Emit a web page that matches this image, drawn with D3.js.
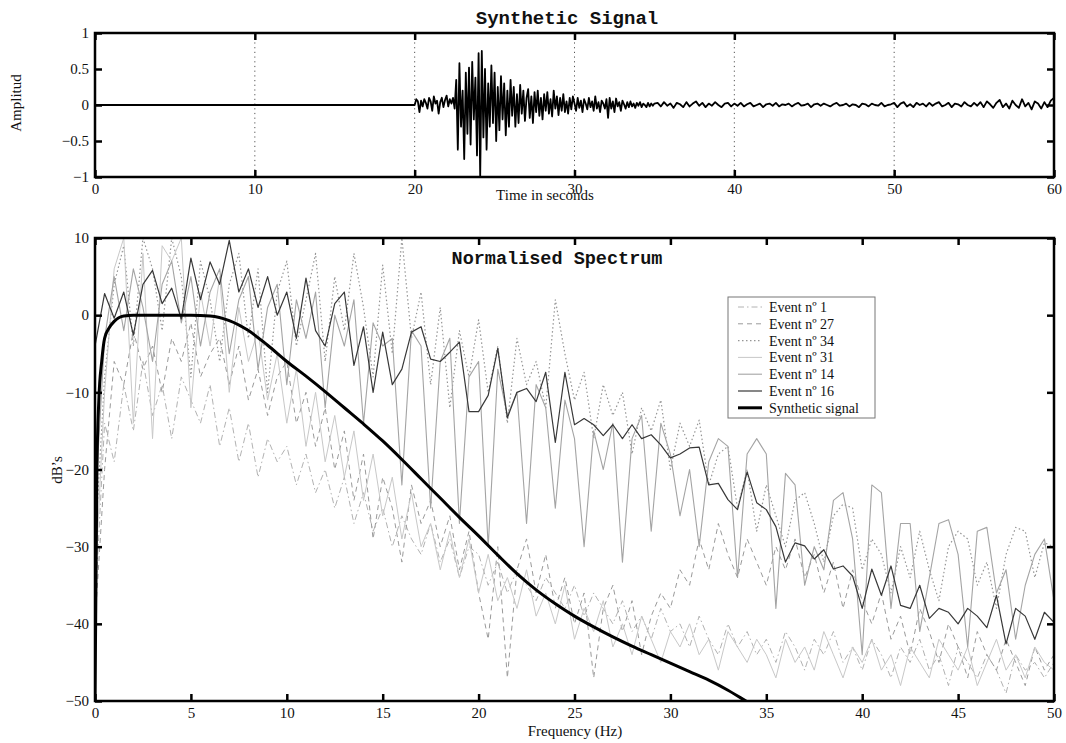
<!DOCTYPE html>
<html>
<head>
<meta charset="utf-8">
<script src="https://cdn.jsdelivr.net/npm/d3@7"></script>
<style>
  body { margin: 0; background: #fff; }
  text { font-family: "Liberation Serif", "Times New Roman", serif; fill: #111; }
  .ttl { font-family: "Liberation Mono", "Courier New", monospace; font-weight: bold; }
</style>
</head>
<body>
<svg id="fig" width="1066" height="743"></svg>
<script>
// ---- tick values
var timeTicks = [0, 10, 20, 30, 40, 50, 60];
var ampTicks = [-1, -0.5, 0, 0.5, 1];
var freqTicks = [0, 5, 10, 15, 20, 25, 30, 35, 40, 45, 50];
var dbTicks = [-50, -40, -30, -20, -10, 0, 10];

// ---- synthetic signal (seconds / amplitude)
var quietEnd = 20;          // flat until 20 s
var burstStart = 20, burstStep = 0.1;   // 20.0 .. 35.0 s
var burst = [
  0, 0.08, 0.05, -0.1, 0.06, -0.02, 0.08, 0.03, -0.05, 0.1,
  0.05, -0.08, 0.12, 0.02, 0.06, -0.12, 0.04, 0.1, -0.03, 0.07,
  0.13, -0.02, 0.08, 0.02, 0.1, -0.05,
  0.35, -0.62, 0.58, -0.3, 0.2, -0.75, 0.45, -0.4, 0.52, -0.55,
  0.6, -0.2, 0.38, -0.7, 0.72, -1.0, 0.75, -0.45, 0.5, -0.62,
  0.3, -0.3, 0.55, -0.25,
  0.45, -0.5, 0.25, -0.35, 0.4, -0.2, 0.3, -0.42, 0.2, -0.3,
  0.35, -0.15, 0.25, -0.3, 0.15, -0.25, 0.28, -0.12, 0.2, -0.22, 0.1,
  0.22, -0.18, 0.12, -0.25, 0.18, -0.1, 0.2, -0.15, 0.1, -0.2,
  0.15, -0.08, 0.18, -0.12, 0.08, -0.16, 0.2, -0.05, 0.12, -0.14,
  0.1, -0.08, 0.15, -0.1, 0.05, -0.12, 0.1, -0.06, 0.12, 0.02,
  -0.08, 0.1, -0.04, 0.06, -0.1, 0.08, 0.02, -0.06, 0.1, -0.03,
  0.05, -0.08, 0.12, -0.05, 0.04, -0.1, 0.06, 0.02, -0.05, 0.08,
  -0.18, 0.1, -0.05, 0.05, -0.1, 0.09, -0.02, 0.04, -0.08, 0.06,
  0.01, -0.05, 0.04, -0.03, 0.05, -0.02, 0.02, -0.04, 0.03, -0.01,
  0.04, -0.03, 0.02, 0, -0.03, 0.03, -0.02, 0.02, -0.01, 0.02
];
var codaStart = 35.2, codaStep = 0.2;   // 35.2 .. 60.0 s
var coda = [
  0.03, -0.02, 0.04, -0.01, 0.02, -0.04, 0.03, 0.01, -0.03, 0.04,
  -0.02, 0.02, 0.05, -0.01, 0.03, -0.03, 0.02, -0.01, 0.04, 0, -0.03, 0.02, 0.03, -0.02, 0.02,
  -0.01, 0.03, -0.02, 0.01, 0.03, -0.02, 0, 0.02, -0.03, 0.01,
  0.02, -0.01, 0.03, -0.02, 0.01, 0, 0.02, -0.02, 0.01, 0.03, -0.01, 0, 0.02, -0.03, 0.01,
  0.02, -0.01, 0.02, 0, -0.02, 0.01, 0.03, -0.01, 0, 0.02,
  -0.02, 0.01, 0, -0.03, 0.02, 0.01, -0.02, 0.02, 0, -0.01, 0.03, -0.02, 0, 0.01, 0.03,
  -0.03, 0.02, 0.04, -0.02, 0.01, -0.03, 0.03, 0, 0.02, -0.02,
  0.03, -0.01, 0.02, 0.04, -0.02, 0, 0.03, -0.03, 0.02, 0.01, -0.02, 0.04, 0, -0.02, 0.03,
  -0.01, 0.04, -0.03, 0.05, 0.01, -0.04, 0.03, 0.07, -0.03, 0.02,
  -0.05, 0.06, 0, -0.04, 0.08, -0.02, 0.03, -0.06, 0.05, 0.02, -0.05, 0.04, -0.03, 0.06, 0.1
];

// ---- spectra, dB every 0.5 Hz from 0 to 50 Hz
var freqStep = 0.5;
var event1 = [
  -38, -14, -19, -9, -15, -6, -13, -9, -16, -8,
  -11, -14, -9, -17, -12, -19, -14, -21, -16, -19,
  -17, -22, -18, -23, -20, -25, -21, -27, -23, -28,
  -25, -30, -26, -29, -31, -27, -32, -29, -34, -30,
  -31, -35, -32, -36, -33, -35, -37, -34, -36, -38,
  -35, -39, -36, -38, -40, -37, -41, -39, -42, -38,
  -41, -40, -43, -39, -42, -44, -40, -43, -41, -44,
  -42, -45, -41, -43, -46, -42, -44, -41, -45, -43,
  -46, -42, -44, -47, -43, -45, -42, -46, -44, -48,
  -43, -45, -47, -44, -46, -49, -44, -46, -45, -47,
  -45
];
var event27 = [
  -40, -20, -6, -9, -2, -7, -4, -10, -3, -6,
  -1, -8, -5, -3, -9, -4, -11, -7, -13, -8,
  -6, -14, -10, -17, -12, -20, -15, -24, -18, -29,
  -21, -25, -32, -22, -27, -24, -30, -26, -33, -28,
  -36, -42, -30, -47, -33, -29, -36, -31, -38, -34,
  -40, -36, -47, -38, -35, -41, -37, -44, -39, -36,
  -38, -33, -35, -29, -33, -27, -31, -34, -29, -32,
  -35, -30, -33, -29, -34, -31, -36, -32, -38, -33,
  -37, -40, -36, -42, -39, -44, -38, -41, -45, -40,
  -43, -47, -41, -44, -46, -42, -45, -48, -43, -46,
  -44
];
var event34 = [
  -30, -8, 4, 9, -4, 10, 6, -2, 10, 5,
  -8, 7, 2, -6, 4, 8, -3, 6, -10, 3,
  7, -4, 2, 8, -6, 5, -2, 8, 1, -8,
  6.5, -5, 10, -3, 3, -9, 1, -12, -2, -8,
  -0.6, -10, -4, -14, -3, -9, -6, -12, 2, -5,
  -11, -7.4, -16, -9, -13, -10, -18, -12, -15, -11,
  -20, -14, -17, -13.6, -22, -18, -17, -25, -20, -28,
  -22, -26, -30, -24, -23, -27, -32, -26, -24.5, -25,
  -33, -29, -31, -36, -30, -34, -28, -33, -37, -30,
  -28, -29, -35, -32, -38, -31, -27.5, -28, -34, -29.5,
  -30
];
var event31 = [
  -35, -10, 6, 10, -14, 8, -16, 9, 7, 10,
  -12, 3, -4, 5, -10, 1, -6, -2, -11, -5,
  -14, -7, -17, -10, -19, -13, -21, -15, -24, -18,
  -26, -21, -29, -23, -30, -27, -33, -28, -34, -29,
  -36, -31, -37, -34, -38, -33, -39, -36, -40, -35,
  -42, -38, -41, -37, -43, -40, -44, -39, -42, -45,
  -41, -43, -40, -44, -42, -46, -41, -43, -45, -42,
  -44, -47, -42, -45, -43, -46, -41, -44, -47, -43,
  -45, -42, -46, -44, -48, -43, -45, -47, -42, -44,
  -46, -43, -48, -45, -42, -46, -44, -47, -43, -45,
  -46
];
var event14 = [
  -25, -3, 5, -2, 6, 1, -6, 4, 7, -1,
  5, -4, 3, 6, -5, 2, 5, -7, 1, 4,
  -9, 2, -3, 3, -12, 0, -4, 2, -14, -1,
  -4, -3, -22, -2, -4, -25, -6, -3, -27, -8,
  -6, -30, -7, -13, -10, -27, -9, -12, -25, -11,
  -16, -30, -15, -20, -14, -32, -16, -13, -28, -14,
  -18, -26, -20, -30, -19, -16, -17, -34, -18, -16,
  -18, -38, -20.5, -22, -35, -30, -33, -24, -23, -29,
  -44, -22, -23, -38, -27, -27, -41, -34, -27, -26.5,
  -31, -43, -28, -27.5, -36, -33, -42, -35, -31, -29,
  -37
];
var event16 = [
  -4, 2.8, -0.4, 3, -2.6, 4, 5.8, 1.5, 3.5, -0.5,
  7.4, 2, 6.9, 4, 9.7, 3, 6, 1, 5, 0,
  3, -3, 4.8, -2, -4, 1.5, 3, -6.5, -1.5, -10,
  -2.2, -9, -7, -2.2, -1.5, -5.7, -6, -4.8, -3.5, -12.5,
  -12.5, -10.4, -4.3, -13.3, -10, -9.5, -11.2, -7.4, -16.5, -7.4,
  -14.2, -13.4, -14.2, -15.6, -14.2, -16, -14.2, -16, -15.5, -16.8,
  -18.5, -18, -17.2, -17.1, -22, -21.8, -23.9, -25.2, -20.3, -24.3,
  -25.2, -27.4, -32, -29.5, -29.9, -31.6, -30.4, -32.9, -32.5, -33.8,
  -38, -32.9, -36.3, -32.5, -37.6, -38, -35, -39.3, -38, -38.5,
  -40, -38, -39, -40.5, -36.3, -42.6, -38, -39, -42, -38.5,
  -39.8
];
var synthFreq = [0, 0.1, 0.2, 0.35, 0.5, 0.75, 1, 1.5, 2, 3, 4, 5, 6, 7, 8, 9, 10, 11, 12, 13, 14, 15, 16, 17, 18,
  19, 20, 21, 22, 23, 24, 25, 26, 27, 28, 29, 30, 31, 32, 33, 34, 35];
var synthDb = [-50, -20, -11, -6, -3, -1.6, -0.8, -0.1, 0, 0, 0, 0, -0.1, -0.7, -2, -3.9, -6, -7.9, -9.9, -12, -14.1, -16.3, -18.7, -21.2, -23.7,
  -26.2, -28.6, -31.1, -33.5, -35.6, -37.4, -39, -40.4, -41.7, -42.9, -44, -45.1, -46.2, -47.3, -48.6, -50.1, -51.6];

var legendLabels = ["Event n\u00ba 1", "Event n\u00ba 27", "Event n\u00ba 34", "Event n\u00ba 31", "Event n\u00ba 14", "Event n\u00ba 16", "Synthetic signal"];

// ---- styles for the spectra, in the drawing order
var styles = [
  {data: event1,  stroke: "#b2b2b2", width: 1,   dash: "6,3,1.5,3"},
  {data: event27, stroke: "#9a9a9a", width: 1,   dash: "5,4"},
  {data: event34, stroke: "#959595", width: 1.2, dash: "1.5,2.5"},
  {data: event31, stroke: "#c8c8c8", width: 1,   dash: null},
  {data: event14, stroke: "#a4a4a4", width: 1.1, dash: null},
  {data: event16, stroke: "#383838", width: 1.2, dash: null}
];

var svg = d3.select("#fig");
var fmt = d3.format("");

function frame(x, y, xt, yt, showX, showY) {
  var g = svg.append("g");
  var x0 = x.range()[0], x1 = x.range()[1], y0 = y.range()[0], y1 = y.range()[1];
  var ax = function (axis, tx, ty, labels) {
    var a = g.append("g").attr("transform", "translate(" + tx + "," + ty + ")")
      .call(axis.tickSize(-7).tickPadding(6).tickFormat(labels ? fmt : ""));
    a.select(".domain").remove();
    a.selectAll(".tick line").attr("stroke", "#000").attr("stroke-width", 2.5);
    a.selectAll("text").attr("font-size", 15).attr("font-family", "Liberation Serif, serif").attr("fill", "#111");
    return a;
  };
  ax(d3.axisBottom(x).tickValues(xt), 0, y0, showX);
  ax(d3.axisTop(x).tickValues(xt), 0, y1, false);
  ax(d3.axisLeft(y).tickValues(yt), x0, 0, showY);
  ax(d3.axisRight(y).tickValues(yt), x1, 0, false);
  g.append("rect").attr("x", x0).attr("y", y1).attr("width", x1 - x0).attr("height", y0 - y1)
    .attr("fill", "none").attr("stroke", "#000").attr("stroke-width", 2.5);
  return g;
}

// ================= top panel
var xT = d3.scaleLinear([0, 60], [95, 1054]);
var yT = d3.scaleLinear([-1, 1], [177, 33]);

svg.append("g").selectAll("line").data(timeTicks.slice(1, -1)).join("line")
  .attr("x1", d => xT(d)).attr("x2", d => xT(d))
  .attr("y1", yT(1)).attr("y2", yT(-1))
  .attr("stroke", "#555").attr("stroke-width", 1).attr("stroke-dasharray", "1.2,3.5");

var sigPts = [[0, 0], [quietEnd, 0]];
burst.forEach((v, i) => sigPts.push([burstStart + i * burstStep, v]));
coda.forEach((v, i) => sigPts.push([codaStart + i * codaStep, v]));

svg.append("defs").append("clipPath").attr("id", "clipT")
  .append("rect").attr("x", 95).attr("y", 33).attr("width", 959).attr("height", 144);

svg.append("path").datum(sigPts)
  .attr("clip-path", "url(#clipT)")
  .attr("fill", "none").attr("stroke", "#000").attr("stroke-width", 1.8).attr("stroke-linejoin", "round")
  .attr("d", d3.line().x(d => xT(d[0])).y(d => yT(d[1])));

frame(xT, yT, timeTicks, ampTicks, true, true);

svg.append("text").attr("class", "ttl").attr("x", 567).attr("y", 24).attr("text-anchor", "middle")
  .attr("font-size", 19).text("Synthetic Signal");
// sits over the "30" tick label, as in the original figure
svg.append("text").attr("x", 545).attr("y", 200).attr("text-anchor", "middle")
  .attr("font-size", 15).text("Time in seconds");
svg.append("text").attr("transform", "translate(21,103) rotate(-90)").attr("text-anchor", "middle")
  .attr("font-size", 15).text("Amplitud");

// ================= bottom panel
var xB = d3.scaleLinear([0, 50], [95, 1054]);
var yB = d3.scaleLinear([-50, 10], [701, 238]);

svg.select("defs").append("clipPath").attr("id", "clipB")
  .append("rect").attr("x", 95).attr("y", 238).attr("width", 959).attr("height", 463);

var specLine = d3.line().x(d => xB(d[0])).y(d => yB(d[1]));
var plot = svg.append("g").attr("clip-path", "url(#clipB)");

styles.forEach(s => {
  plot.append("path").datum(s.data.map((v, i) => [i * freqStep, v]))
    .attr("fill", "none").attr("stroke", s.stroke).attr("stroke-width", s.width)
    .attr("stroke-dasharray", s.dash).attr("stroke-linejoin", "round")
    .attr("d", specLine);
});

plot.append("path").datum(synthFreq.map((f, i) => [f, synthDb[i]]))
  .attr("fill", "none").attr("stroke", "#000").attr("stroke-width", 3)
  .attr("d", specLine.curve(d3.curveMonotoneX));

frame(xB, yB, freqTicks, dbTicks, true, true);

svg.append("text").attr("class", "ttl").attr("x", 557).attr("y", 264).attr("text-anchor", "middle")
  .attr("font-size", 18.5).text("Normalised Spectrum");
svg.append("text").attr("x", 575).attr("y", 736).attr("text-anchor", "middle")
  .attr("font-size", 15).text("Frequency (Hz)");
svg.append("text").attr("transform", "translate(62,470) rotate(-90)").attr("text-anchor", "middle")
  .attr("font-size", 15).text("dB\u2019s");

// ---- legend
var lg = svg.append("g").attr("transform", "translate(728,297)");
lg.append("rect").attr("width", 147).attr("height", 121)
  .attr("fill", "#fff").attr("stroke", "#777").attr("stroke-width", 1);
var legendStyles = styles.concat([{stroke: "#000", width: 3, dash: null}]);
legendLabels.forEach((name, i) => {
  var yy = 10 + i * 16.8;
  var s = legendStyles[i];
  lg.append("line").attr("x1", 10).attr("x2", 34).attr("y1", yy).attr("y2", yy)
    .attr("stroke", s.stroke).attr("stroke-width", s.width).attr("stroke-dasharray", s.dash);
  lg.append("text").attr("x", 41).attr("y", yy + 5).attr("font-size", 14).text(name);
});
</script>
</body>
</html>
